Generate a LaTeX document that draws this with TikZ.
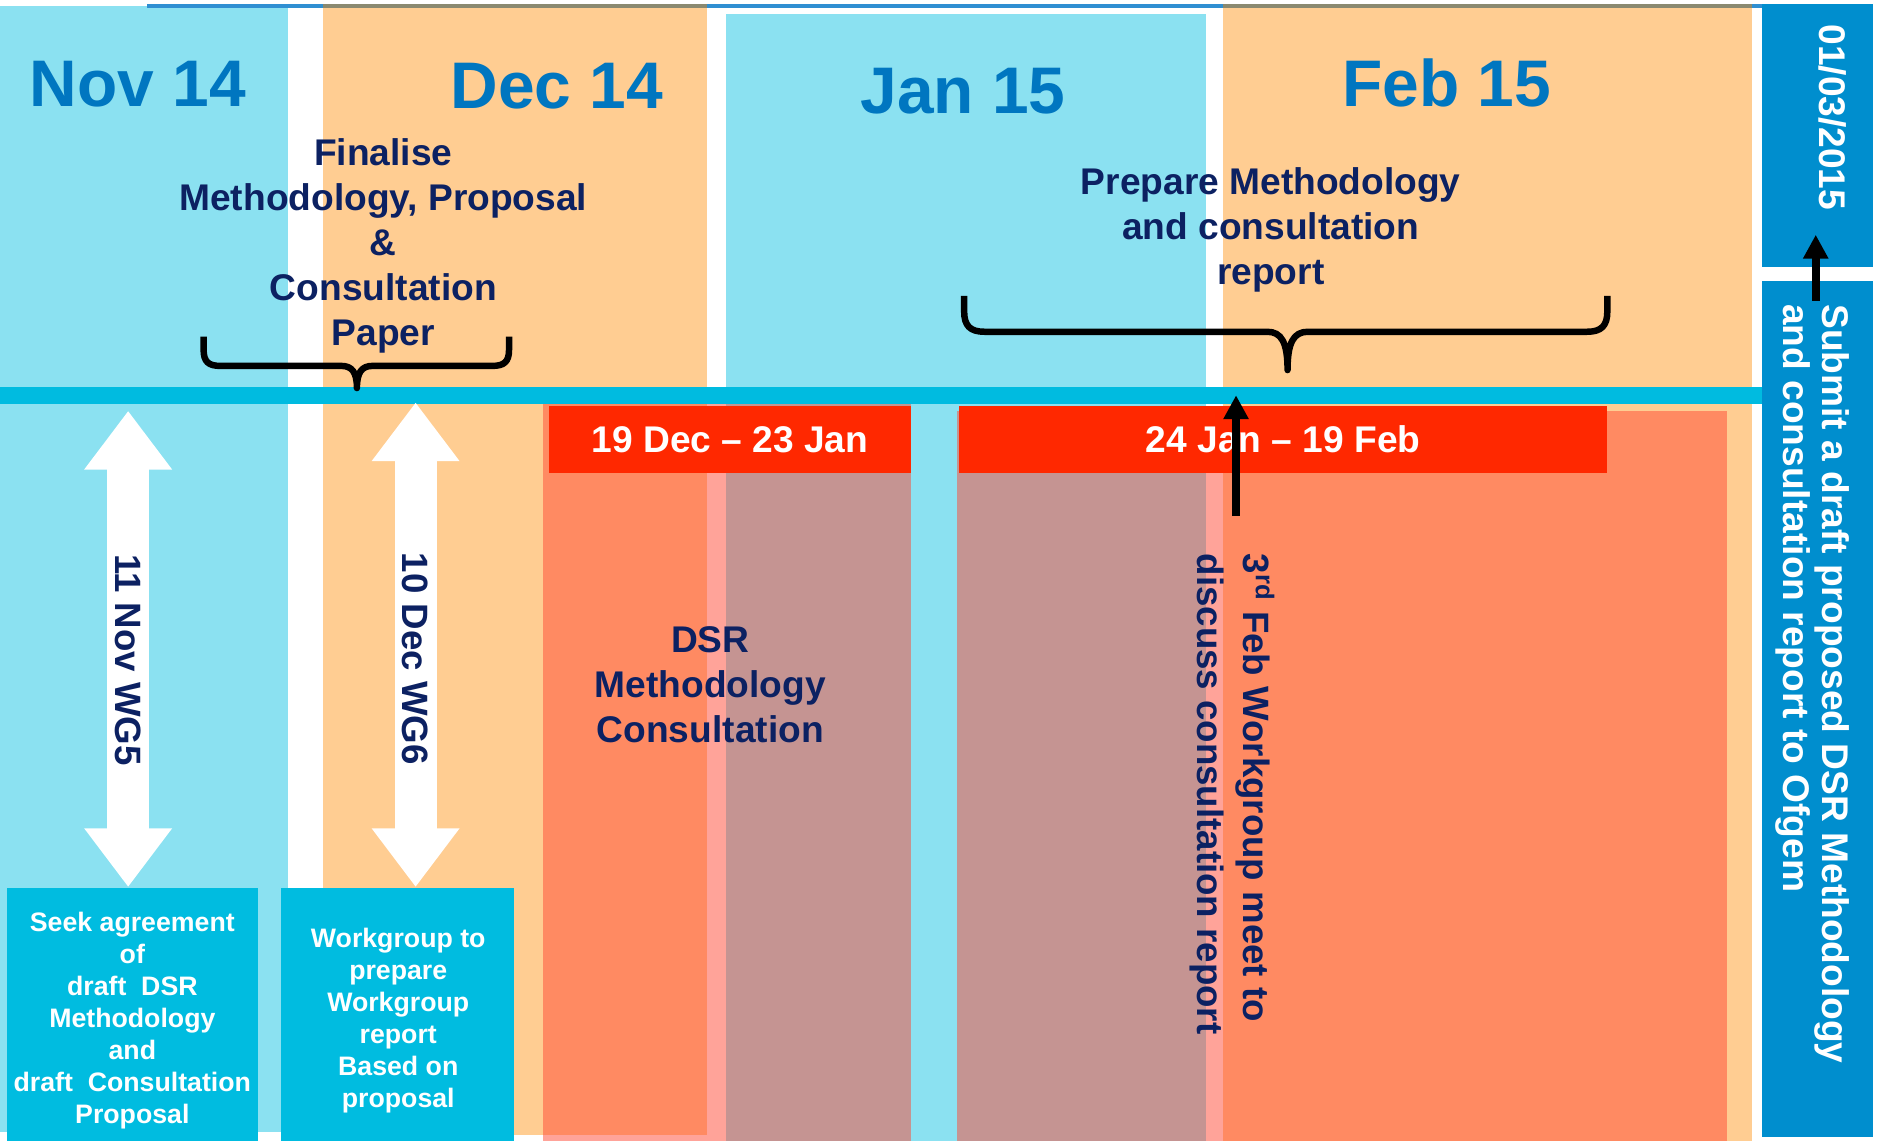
\documentclass[tikz,border=0pt]{standalone}
\usepackage{fontspec}
\setmainfont{Liberation Sans}
\usetikzlibrary{arrows.meta}
\definecolor{colcyan}{RGB}{139,225,241}
\definecolor{colorange}{RGB}{255,205,146}
\definecolor{bandc}{RGB}{0,187,224}
\definecolor{boxcyan}{RGB}{0,188,224}
\definecolor{rightblue}{RGB}{0,142,206}
\definecolor{monthblue}{RGB}{0,118,192}
\definecolor{navy}{RGB}{12,33,98}
\definecolor{labelred}{RGB}{255,40,0}
\definecolor{overlayc}{RGB}{255,72,52}
\definecolor{toplinec}{RGB}{47,143,210}
\definecolor{toplinegray}{RGB}{138,137,112}
\begin{document}
\begin{tikzpicture}[x=0.5pt,y=-0.5pt,
  month/.style={inner sep=0pt, text=monthblue, font=\fontsize{27.5pt}{33pt}\selectfont\bfseries},
  heading/.style={inner sep=0pt, text=navy, align=center, font=\fontsize{15.5pt}{18.8pt}\selectfont\bfseries},
  boxtext/.style={inner sep=0pt, text=white, align=center, font=\fontsize{11.15pt}{13.35pt}\selectfont\bfseries},
  cyanbox/.style={fill=boxcyan, draw=none, inner sep=0pt},
  bluebox/.style={fill=rightblue, draw=none, inner sep=0pt},
  redlabel/.style={fill=labelred, draw=none, inner sep=0pt, text=white, font=\fontsize{15.5pt}{18pt}\selectfont\bfseries},
  vlabel/.style={inner sep=0pt, rotate=-90, text=navy, align=left, font=\fontsize{15.3pt}{19pt}\selectfont\bfseries},
  wlabel/.style={inner sep=0pt, rotate=-90, text=white, align=left, font=\fontsize{15.5pt}{16.5pt}\selectfont\bfseries},
  wgarrow/.style={white, line width=17.5pt, {Triangle[width=35pt,length=24.5pt]}-{Triangle[width=35pt,length=24.5pt]}},
  blkarrow/.style={black, line width=3.4pt, -{Triangle[width=10pt,length=10pt]}},
  brace/.style={black, line width=2.7pt, line join=round},
  overlay/.style={fill=overlayc, fill opacity=0.5}
]
\useasboundingbox (0,0) rectangle (1568,953);
\fill[white] (0,0) rectangle (1568,953);
% month columns
\fill[colcyan] (0,5) rectangle (240.5,945);
\fill[colorange] (270,6) rectangle (590.5,948);
\fill[colcyan] (606,12) rectangle (1007,953);
\fill[colorange] (1021,6) rectangle (1463,953);
% top line
\draw[toplinec, line width=1.8pt] (123,5.2) -- (1471,5.2);
\draw[toplinegray, line width=1.8pt] (270,5.2) -- (590.5,5.2) (1021,5.2) -- (1463,5.2);
% time band
\node[fill=bandc, draw=none, inner sep=0pt, minimum width=735.5pt, minimum height=7pt] (band) at (735.5,330) {};
% consultation periods
\fill[overlay] (453.5,337) rectangle (761,953);
\fill[overlay] (799,343) rectangle (1442,953);
\node[redlabel, minimum width=151.5pt, minimum height=27.8pt] (lab1) at (609.5,366.8) {19 Dec – 23 Jan};
\node[redlabel, minimum width=270.6pt, minimum height=27.8pt] (lab2) at (1071.4,366.8) {24 Jan – 19 Feb};
% month labels
\node[month] (nov) at (115,70) {Nov 14};
\node[month] (dec) at (465,72) {Dec 14};
\node[month] (jan) at (804,76) {Jan 15};
\node[month] (feb) at (1208,69) {Feb 15};
% headings
\node[heading] (finalise) at (320,205) {Finalise\\Methodology, Proposal\\\&\\Consultation\\Paper};
\node[heading] (prepare) at (1061,192) {Prepare Methodology\\and consultation\\report};
\node[heading] (dsr) at (593,572) {DSR\\Methodology\\Consultation};
% braces
\draw[brace] (170,281) -- (170,292) .. controls (170,302) and (174,305.5) .. (184,305.5) -- (285,305.5)
  .. controls (294,305.5) and (298,311) .. (298,324) .. controls (298,311) and (302,305.5) .. (311,305.5)
  -- (411,305.5) .. controls (421,305.5) and (425,302) .. (425,292) -- (425,281);
\draw[brace] (805,247) -- (805,260) .. controls (805,272) and (810,277) .. (822,277) -- (1058,277)
  .. controls (1070,277) and (1075,286) .. (1075,309) .. controls (1075,286) and (1080,277) .. (1092,277)
  -- (1325,277) .. controls (1337,277) and (1342,272) .. (1342,260) -- (1342,247);
% workgroup boxes
\node[cyanbox, minimum width=104.5pt, minimum height=106pt] (box1) at (110.5,847) {};
\node[cyanbox, minimum width=97.25pt, minimum height=106pt] (box2) at (332.25,847) {};
\node[boxtext] (box1text) at (110.5,852) {Seek agreement\\of\\draft\ \ DSR\\Methodology\\and\\draft\ \ Consultation\\Proposal};
\node[boxtext] (box2text) at (332.5,852) {Workgroup to\\prepare\\Workgroup\\report\\Based on\\proposal};
% workgroup double arrows
\coordinate (wg5top) at (107,343);
\coordinate (wg6top) at (347,336);
\draw[wgarrow] (wg5top) -- (wg5top |- box1.north);
\draw[wgarrow] (wg6top) -- (wg6top |- box2.north);
\node[vlabel] (wg5) at (107,551) {11 Nov WG5};
\node[vlabel] (wg6) at (347,550) {10 Dec WG6};
% 3rd Feb
\coordinate (feb3tail) at (1032,431);
\draw[blkarrow] (feb3tail) -- (feb3tail |- band.center);
\node[vlabel] (feb3) at (1029,663) {3\textsuperscript{rd} Feb Workgroup meet to\\discuss consultation report};
% right boxes
\node[bluebox, minimum width=46.5pt, minimum height=109.8pt] (datebox) at (1517.5,113.2) {};
\node[bluebox, minimum width=46.5pt, minimum height=357pt] (submitbox) at (1517.5,592) {};
\node[wlabel] (date) at (1530,98) {01/03/2015};
\node[wlabel] (submit) at (1513.5,571) {Submit a draft proposed DSR Methodology\\and consultation report to Ofgem};
\coordinate (subtail) at (1516,251);
\coordinate (subtip) at (1516,196);
\draw[blkarrow] (subtail) -- (subtip);
\end{tikzpicture}
\end{document}
